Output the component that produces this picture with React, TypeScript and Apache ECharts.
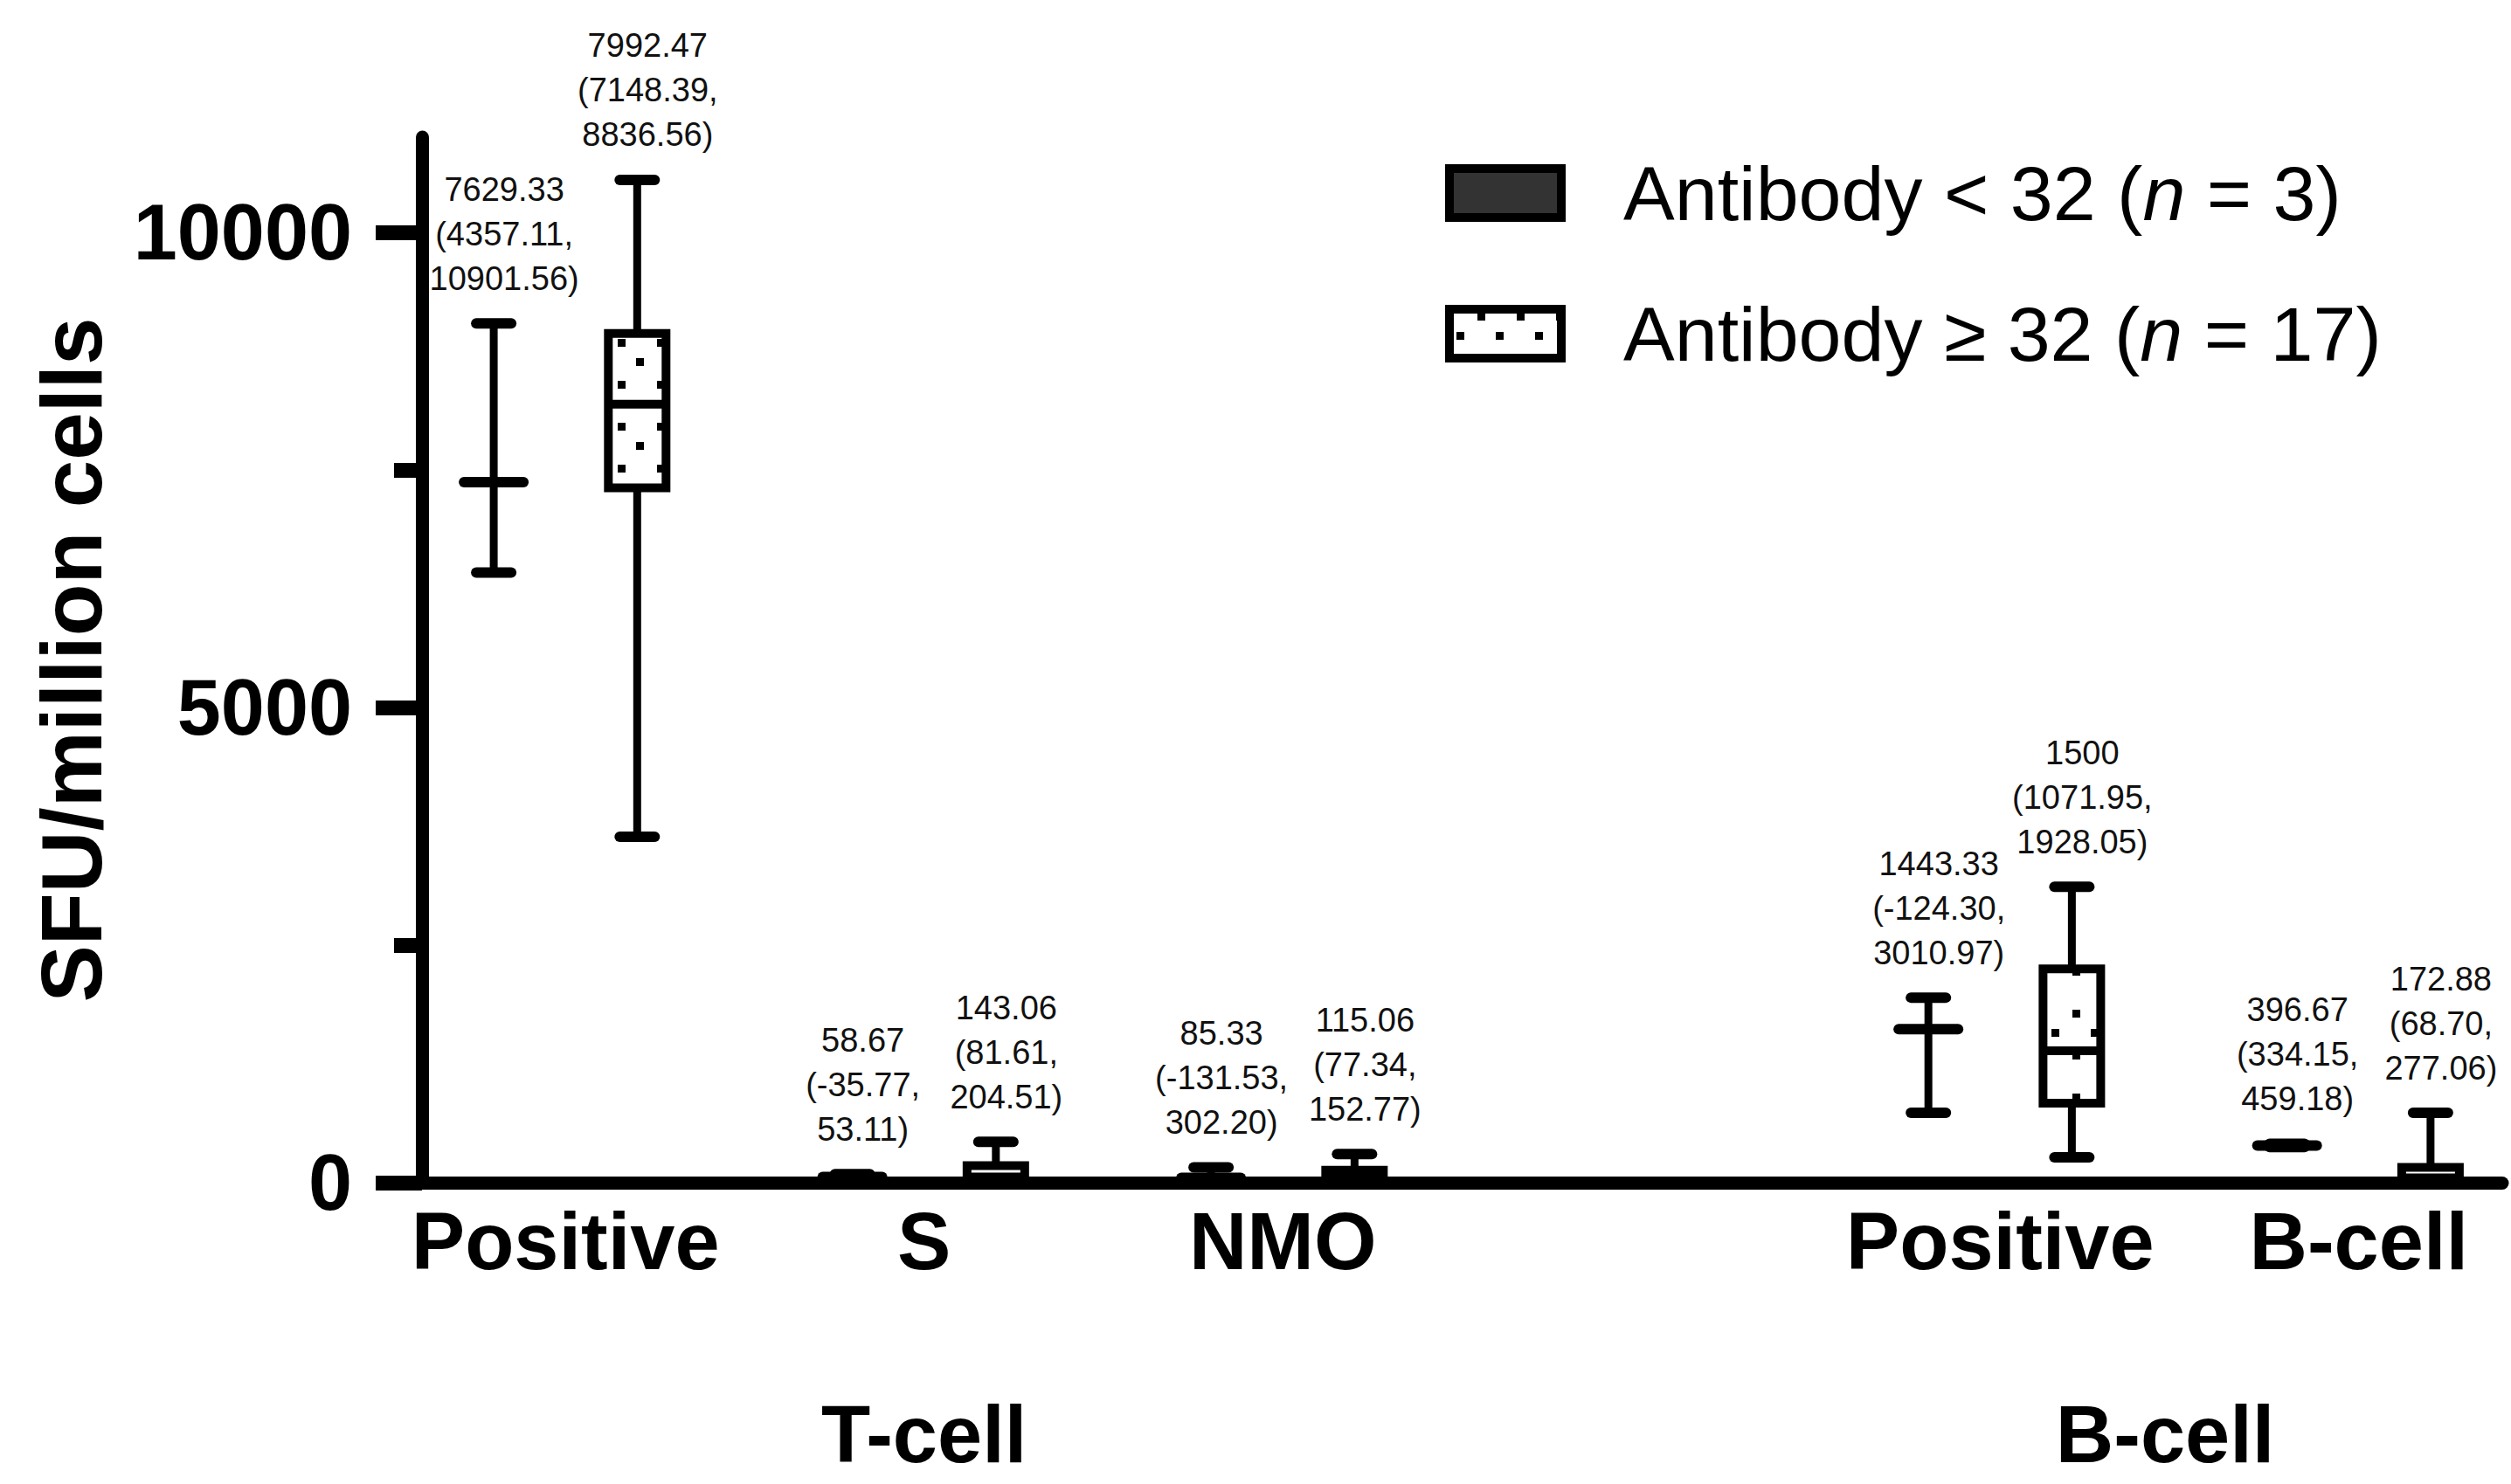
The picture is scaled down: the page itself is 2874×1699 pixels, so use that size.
import React, { useEffect, useRef } from "react";
import * as echarts from "echarts";

const FONT = '"Liberation Sans", Arial, Helvetica, sans-serif';

// Categories on the x axis (position in 0.2-category units)
const categoryNames = ["Positive", "S", "NMO", "Positive", "B-cell"];
const categoryPositions = [0, 5, 10, 20, 25];
const groupNames = ["T-cell", "B-cell"];
const groupPositions = [5, 22.3];
const seriesNames = ["Antibody < 32 (n = 3)", "Antibody ≥ 32 (n = 17)"];

// y axis ticks
const yMajorTicks = [0, 5000, 10000];
const yMinorTicks = [2500, 7500];

// Antibody < 32 (n = 3)
const lowMin = [6420, 30, 10, 735, 375];
const lowMedian = [7370, 60, 50, 1616, 390];
const lowMax = [9040, 90, 160, 1947, 410];
const lowMean = [7629.33, 58.67, 85.33, 1443.33, 396.67];
const lowCiLow = [4357.11, -35.77, -131.53, -124.3, 334.15];
const lowCiHigh = [10901.56, 53.11, 302.2, 3010.97, 459.18];

// Antibody >= 32 (n = 17)
const highMin = [3640, 0, 0, 266, 0];
const highQ1 = [7310, 10, 20, 836, 10];
const highMedian = [8190, 60, 70, 1387, 50];
const highQ3 = [8935, 180, 130, 2250, 160];
const highMax = [10550, 430, 300, 3113, 735];
const highMean = [7992.47, 143.06, 115.06, 1500, 172.88];
const highCiLow = [7148.39, 81.61, 77.34, 1071.95, 68.7];
const highCiHigh = [8836.56, 204.51, 152.77, 1928.05, 277.06];

const fmt = (v: number) => (Number.isInteger(v) ? String(v) : v.toFixed(2));
const labelText = (m: number, lo: number, hi: number) => `${fmt(m)}\n(${fmt(lo)},\n${fmt(hi)})`;

function makeDotPattern(): HTMLCanvasElement {
  const c = document.createElement("canvas");
  c.width = 45;
  c.height = 96;
  const g = c.getContext("2d")!;
  g.fillStyle = "#ffffff";
  g.fillRect(0, 0, 45, 96);
  g.fillStyle = "#000000";
  [[8, 26], [32, 4], [32, 52]].forEach(([x, y]) => g.fillRect(x, y, 9, 9));
  return c;
}

export default function App() {
  const ref = useRef<HTMLDivElement>(null);
  useEffect(() => {
    document.body.style.margin = "0";
    document.body.style.overflow = "hidden";
    const chart = echarts.init(ref.current!, null, { renderer: "svg" });
    const pattern = { image: makeDotPattern(), repeat: "repeat" };

    const lowData = categoryPositions.map((p, i) => [
      p - 1, lowMin[i], lowMedian[i], lowMax[i], lowMean[i], lowCiLow[i], lowCiHigh[i],
    ]);
    const highData = categoryPositions.map((p, i) => [
      p + 1, highMin[i], highQ1[i], highMedian[i], highQ3[i], highMax[i], highMean[i], highCiLow[i], highCiHigh[i],
    ]);

    const lineEl = (x1: number, y1: number, x2: number, y2: number, w: number, cap = "butt") => ({
      type: "line",
      shape: { x1, y1, x2, y2 },
      style: { stroke: "#000", lineWidth: w, lineCap: cap },
    });
    const textEl = (x: number, y: number, text: string) => ({
      type: "text",
      style: {
        text, x: x + 12, y: y - 26, align: "center", verticalAlign: "bottom",
        fontSize: 38, lineHeight: 51, fontFamily: FONT, fill: "#111",
      },
      z2: 10,
    });

    const renderLow = (params: any, api: any) => {
      const x = api.value(0);
      const [cx, yMin] = api.coord([x, api.value(1)]);
      const yMed = api.coord([x, api.value(2)])[1];
      const yMax = api.coord([x, api.value(3)])[1];
      return {
        type: "group",
        children: [
          lineEl(cx, yMin, cx, yMax, 9),
          lineEl(cx - 20, yMax, cx + 20, yMax, 12, "round"),
          lineEl(cx - 20, yMin, cx + 20, yMin, 12, "round"),
          lineEl(cx - 34, yMed, cx + 34, yMed, 12, "round"),
          textEl(cx, yMax, labelText(api.value(4), api.value(5), api.value(6))),
        ],
      };
    };

    const renderHigh = (params: any, api: any) => {
      const x = api.value(0);
      const [cx, yMin] = api.coord([x, api.value(1)]);
      const yQ1 = api.coord([x, api.value(2)])[1];
      const yMed = api.coord([x, api.value(3)])[1];
      const yQ3 = api.coord([x, api.value(4)])[1];
      const yMax = api.coord([x, api.value(5)])[1];
      return {
        type: "group",
        children: [
          lineEl(cx, yMax, cx, yQ3, 9),
          lineEl(cx, yQ1, cx, yMin, 9),
          lineEl(cx - 20, yMax, cx + 20, yMax, 12, "round"),
          lineEl(cx - 20, yMin, cx + 20, yMin, 12, "round"),
          {
            type: "rect",
            shape: { x: cx - 33, y: yQ3, width: 66, height: Math.max(yQ1 - yQ3, 0.5) },
            style: { fill: pattern, stroke: "#000", lineWidth: 10 },
          },
          lineEl(cx - 33, yMed, cx + 33, yMed, 10),
          textEl(cx, yMax, labelText(api.value(6), api.value(7), api.value(8))),
        ],
      };
    };

    const legendFormatter = (name: string) => {
      const k = name.lastIndexOf("(n");
      return `{s|}{t|${name.slice(0, k + 1)}}{i|n}{t|${name.slice(k + 2)}}`;
    };

    const option: any = {
      animation: false,
      backgroundColor: "#ffffff",
      grid: { left: 483, right: 10, top: 157, bottom: 345, containLabel: false, outerBoundsMode: "none" },
      legend: {
        orient: "vertical",
        left: 1654,
        top: 177,
        padding: 0,
        itemWidth: 128,
        itemHeight: 56,
        itemGap: 73,
        selectedMode: false,
        formatter: legendFormatter,
        textStyle: {
          rich: {
            s: { width: 66, lineHeight: 88 },
            t: { fontSize: 88, lineHeight: 88, fontFamily: FONT, color: "#000" },
            i: { fontSize: 88, lineHeight: 88, fontFamily: FONT, fontStyle: "italic", color: "#000" },
          },
        },
        data: [
          { name: seriesNames[0], icon: "rect", itemStyle: { color: "#333333", borderColor: "#000", borderWidth: 10 } },
          { name: seriesNames[1], icon: "rect", itemStyle: { color: pattern, borderColor: "#000", borderWidth: 10 } },
        ],
      },
      xAxis: [
        {
          type: "value", min: -2, max: 27, position: "bottom",
          axisLine: { show: true, onZero: false, lineStyle: { color: "#000", width: 15 } },
          axisTick: { show: false },
          splitLine: { show: false },
          axisLabel: {
            customValues: categoryPositions,
            formatter: (v: number) => categoryNames[categoryPositions.indexOf(v)] ?? "",
            margin: 21, fontSize: 92, fontWeight: "bold", fontFamily: FONT, color: "#000",
          },
        },
        {
          type: "value", min: -2, max: 27, position: "bottom",
          axisLine: { show: false, onZero: false },
          axisTick: { show: false },
          splitLine: { show: false },
          axisLabel: {
            customValues: groupPositions,
            formatter: (v: number) => groupNames[groupPositions.indexOf(v)] ?? "",
            margin: 242, fontSize: 92, fontWeight: "bold", fontFamily: FONT, color: "#000",
          },
        },
      ],
      yAxis: [
        {
          type: "value", min: 0, max: 11000, position: "left",
          name: "SFU/million cells", nameLocation: "middle", nameGap: 352,
          nameTextStyle: { fontSize: 98, fontWeight: "bold", fontFamily: FONT, color: "#000" },
          axisLine: { show: true, onZero: false, lineStyle: { color: "#000", width: 15 } },
          axisTick: { show: true, customValues: yMajorTicks, length: 53, lineStyle: { color: "#000", width: 17 } },
          axisLabel: {
            customValues: yMajorTicks, formatter: (v: number) => String(v),
            margin: 80, fontSize: 90, fontWeight: "bold", fontFamily: FONT, color: "#000",
          },
          splitLine: { show: false },
        },
        {
          type: "value", min: 0, max: 11000, position: "left",
          axisLine: { show: false, onZero: false },
          axisTick: { show: true, customValues: yMinorTicks, length: 32, lineStyle: { color: "#000", width: 17 } },
          axisLabel: { show: false },
          splitLine: { show: false },
        },
      ],
      series: [
        {
          name: seriesNames[0], type: "custom", renderItem: renderLow, data: lowData,
          itemStyle: { color: "#333333" }, clip: false,
          encode: { x: 0, y: [1, 2, 3] },
        },
        {
          name: seriesNames[1], type: "custom", renderItem: renderHigh, data: highData,
          itemStyle: { color: "#ffffff" }, clip: false,
          encode: { x: 0, y: [1, 2, 3, 4, 5] },
        },
      ],
    };
    chart.setOption(option);
    return () => chart.dispose();
  }, []);
  return <div ref={ref} style={{ width: 2874, height: 1699, background: "#fff" }} />;
}
